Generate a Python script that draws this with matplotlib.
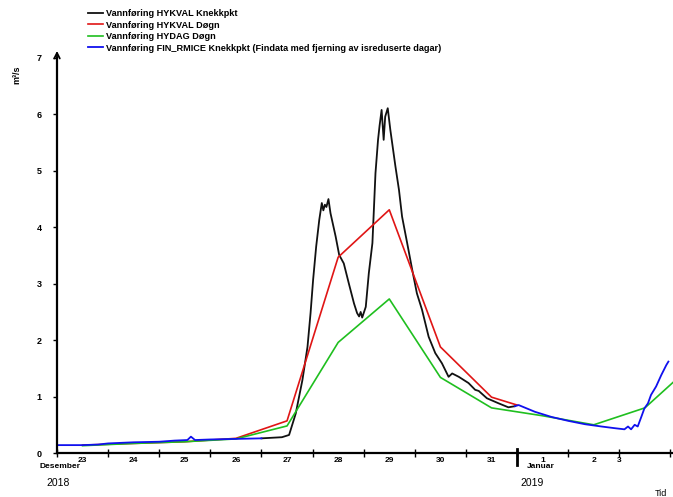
import matplotlib
matplotlib.use("Agg")
import matplotlib.pyplot as plt
from matplotlib.transforms import blended_transform_factory

plt.rcParams['font.family'] = ['Liberation Sans', 'DejaVu Sans']

# x values are days after 23 Dec 2018 00:00
# daily means (plotted at noon)
red_days = [0.5, 1.5, 2.5, 3.5, 4.5, 5.5, 6.5, 7.5, 8.5, 9.0]
red_vals = [0.14, 0.17, 0.20, 0.26, 0.57, 3.47, 4.31, 1.88, 0.99, 0.85]

green_days = [0.5, 1.5, 2.5, 3.5, 4.5, 5.5, 6.5, 7.5, 8.5, 9.5, 10.5, 11.5, 12.5]
green_vals = [0.13, 0.17, 0.20, 0.25, 0.48, 1.96, 2.73, 1.34, 0.80, 0.66, 0.50, 0.80, 1.62]

# HYKVAL breakpoints
black_days = [4.0, 4.4, 4.54, 4.67, 4.8, 4.9, 4.96, 5.01, 5.07, 5.13, 5.18, 5.21,
              5.24, 5.27, 5.31, 5.35, 5.45, 5.52, 5.61, 5.71, 5.81, 5.87, 5.91,
              5.94, 5.97, 6.04, 6.10, 6.17, 6.23, 6.28, 6.31, 6.35, 6.39, 6.42,
              6.47, 6.52, 6.62, 6.69, 6.75, 6.85, 6.95, 7.04, 7.14, 7.27, 7.40,
              7.53, 7.66, 7.73, 7.86, 8.05, 8.18, 8.25, 8.41, 8.64, 8.83, 8.96]
black_vals = [0.26, 0.28, 0.32, 0.70, 1.29, 1.88, 2.48, 3.07, 3.66, 4.13, 4.43, 4.30,
              4.40, 4.36, 4.50, 4.25, 3.84, 3.51, 3.36, 3.00, 2.65, 2.48, 2.42,
              2.50, 2.40, 2.59, 3.19, 3.72, 4.96, 5.55, 5.80, 6.08, 5.55, 5.96,
              6.11, 5.73, 5.08, 4.66, 4.19, 3.72, 3.24, 2.83, 2.54, 2.06, 1.77,
              1.59, 1.35, 1.41, 1.35, 1.24, 1.12, 1.10, 0.97, 0.88, 0.81, 0.83]

# FIN_RMICE breakpoints, before and after the HYKVAL stretch
blue_days_a = [0.0, 0.5, 0.8, 1.0, 1.5, 2.0, 2.3, 2.55, 2.62, 2.7, 3.0, 3.5, 4.0]
blue_vals_a = [0.14, 0.14, 0.15, 0.17, 0.19, 0.20, 0.22, 0.23, 0.29, 0.23, 0.24, 0.25, 0.26]
blue_days_b = [8.96, 9.03, 9.35, 9.67, 10.0, 10.33, 10.65, 10.91, 11.1, 11.17,
               11.23, 11.3, 11.36, 11.43, 11.49, 11.56, 11.62, 11.72, 11.82, 11.92, 11.96]
blue_vals_b = [0.83, 0.85, 0.73, 0.64, 0.57, 0.51, 0.47, 0.44, 0.42, 0.47,
               0.42, 0.50, 0.47, 0.64, 0.79, 0.88, 1.03, 1.18, 1.38, 1.56, 1.62]

labels = ["Vannføring HYKVAL Knekkpkt",
          "Vannføring HYKVAL Døgn",
          "Vannføring HYDAG Døgn",
          "Vannføring FIN_RMICE Knekkpkt (Findata med fjerning av isreduserte dagar)"]

day_label_pos = [0.5, 1.5, 2.5, 3.5, 4.5, 5.5, 6.5, 7.5, 8.5, 9.5, 10.5, 11.0]
day_labels = ["23", "24", "25", "26", "27", "28", "29", "30", "31", "1", "2", "3"]

fig = plt.figure(figsize=(6.73, 4.97), dpi=100)
ax = fig.add_axes([0.0847, 0.0885, 0.9153, 0.7948])

l1, = ax.plot(black_days, black_vals, color="#111111", lw=1.3)
l2, = ax.plot(red_days, red_vals, color="#e01515", lw=1.2)
l3, = ax.plot(green_days, green_vals, color="#1fbf1f", lw=1.2)
l4, = ax.plot(blue_days_a, blue_vals_a, color="#1010ee", lw=1.3)
ax.plot(blue_days_b, blue_vals_b, color="#1010ee", lw=1.3)

ax.set_xlim(0, 12.05)
ax.set_ylim(0, 7)

for s in ["top", "right"]:
    ax.spines[s].set_visible(False)
ax.spines["left"].set_linewidth(1.6)
ax.spines["bottom"].set_linewidth(1.6)

ax.set_yticks(range(8))
ax.tick_params(axis="y", length=3, width=1, pad=8, labelsize=6.5)
for t in ax.get_yticklabels():
    t.set_fontweight("bold")

ax.xaxis.remove_overlapping_locs = False
ax.set_xticks(range(13))
ax.set_xticklabels([])
ax.tick_params(axis="x", which="major", direction="inout", length=6, width=1)
ax.set_xticks(day_label_pos, minor=True)
ax.set_xticklabels(day_labels, minor=True)
ax.tick_params(axis="x", which="minor", length=0, pad=3, labelsize=6)
for t in ax.get_xticklabels(minor=True):
    t.set_fontweight("bold")

# year boundary marker
tr = blended_transform_factory(ax.transData, ax.transAxes)
ax.plot([9, 9], [0.01, -0.03], color="black", lw=2, transform=tr, clip_on=False)

# arrow on the y axis
ax.annotate("", xy=(0, 1.025), xytext=(0, 0.99), xycoords="axes fraction",
            arrowprops=dict(arrowstyle="->", color="black", lw=1.3))

fig.text(0.025, 0.85, "m³/s", rotation=90, fontsize=6.5, fontweight="bold",
         ha="center", va="center")
fig.text(40 / 673, 1 - 467 / 497, "Desember", fontsize=6, fontweight="bold", va="center")
fig.text(46 / 673, 1 - 483 / 497, "2018", fontsize=7.5, va="center")
fig.text(527 / 673, 1 - 467 / 497, "Januar", fontsize=6, fontweight="bold", va="center")
fig.text(520 / 673, 1 - 483 / 497, "2019", fontsize=7.5, va="center")
fig.text(655 / 673, 1 - 493 / 497, "Tid", fontsize=6.5, va="center")

fig.legend([l1, l2, l3, l4], labels, loc="upper left",
           bbox_to_anchor=(88 / 673, 1 - 9 / 497), frameon=False,
           borderpad=0, borderaxespad=0, handlelength=1.65, handletextpad=0.35,
           labelspacing=0.28, prop={"size": 6.6, "weight": "bold"})

fig.savefig("out.png", dpi=100)
